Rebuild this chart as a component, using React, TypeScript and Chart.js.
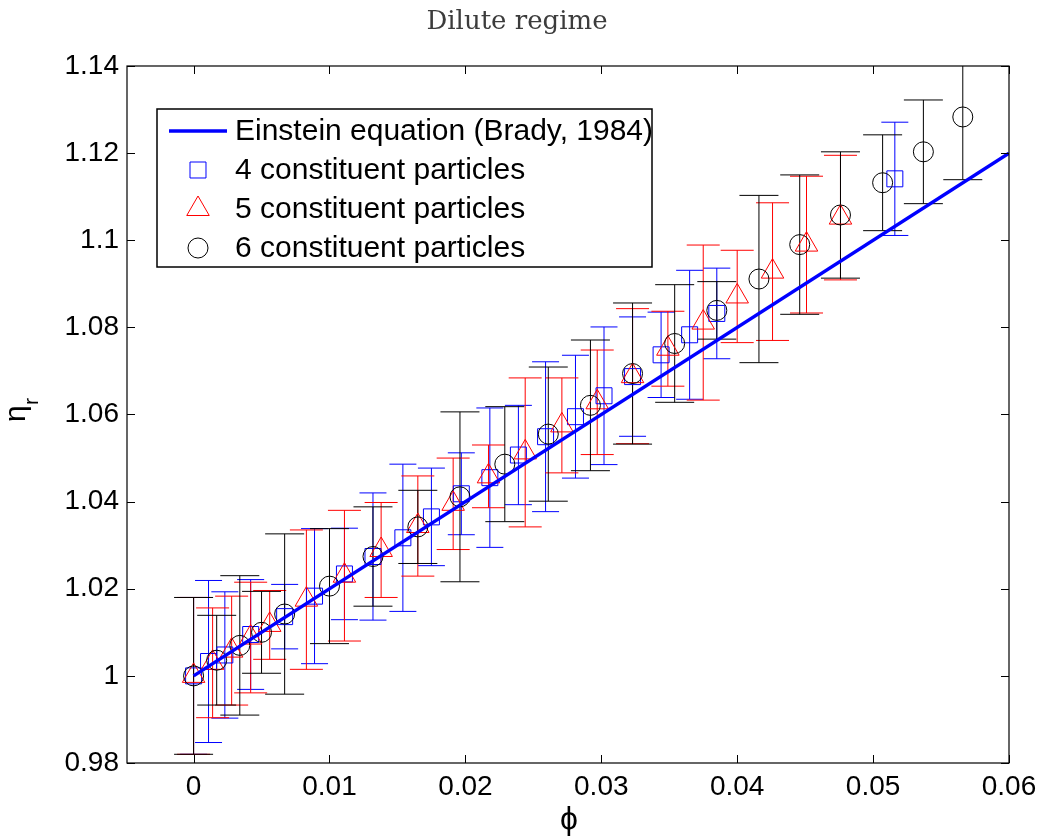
import React, { useEffect, useRef } from 'react';
import { Chart, registerables } from 'chart.js';

Chart.register(...registerables);

// Einstein equation (two end points of the straight line)
const einsteinPhi = [0, 0.06];
const einsteinEta = [1.0, 1.12];

// 4 constituent particles
const phi4 = [0, 0.0011, 0.0023, 0.0042, 0.0067, 0.0089, 0.0111, 0.0132, 0.0154, 0.0175, 0.0197, 0.0218, 0.0239, 0.0259, 0.0281, 0.0302, 0.0323, 0.0344, 0.0365, 0.0385, 0.0516];
const eta4 = [1.0, 1.0033, 1.0048, 1.0095, 1.0136, 1.0183, 1.0234, 1.0274, 1.0317, 1.0365, 1.0418, 1.0455, 1.0507, 1.0549, 1.0595, 1.0643, 1.0687, 1.0737, 1.0783, 1.0832, 1.1141];
const err4 = [0.018, 0.0186, 0.0145, 0.0126, 0.0074, 0.0155, 0.0105, 0.0146, 0.0169, 0.0112, 0.0094, 0.016, 0.0114, 0.0172, 0.0141, 0.0158, 0.0137, 0.0098, 0.0148, 0.0104, 0.013];

// 5 constituent particles
const phi5 = [0, 0.0014, 0.0028, 0.0042, 0.0056, 0.0083, 0.0111, 0.0138, 0.0165, 0.0191, 0.0217, 0.0244, 0.0271, 0.0297, 0.0323, 0.0349, 0.0375, 0.04, 0.0426, 0.0451, 0.0476];
const eta5 = [1.0, 1.003, 1.0058, 1.0088, 1.0117, 1.0175, 1.023, 1.0289, 1.0344, 1.0395, 1.0458, 1.0513, 1.0575, 1.0628, 1.0688, 1.0751, 1.0811, 1.0871, 1.0928, 1.099, 1.1052];
const err5 = [0.018, 0.0126, 0.0125, 0.0127, 0.0079, 0.016, 0.015, 0.0109, 0.0115, 0.0105, 0.0072, 0.0171, 0.0109, 0.012, 0.0155, 0.0086, 0.0178, 0.0106, 0.0158, 0.0157, 0.0143];

// 6 constituent particles
const phi6 = [0, 0.0017, 0.0034, 0.005, 0.0067, 0.01, 0.0132, 0.0165, 0.0196, 0.0229, 0.0261, 0.0292, 0.0323, 0.0354, 0.0385, 0.0416, 0.0446, 0.0476, 0.0507, 0.0537, 0.0566];
const eta6 = [1.0, 1.0036, 1.007, 1.01, 1.0142, 1.0206, 1.0274, 1.0342, 1.0411, 1.0486, 1.0555, 1.0621, 1.0694, 1.0763, 1.0839, 1.0911, 1.099, 1.1058, 1.1132, 1.1203, 1.1283];
const err6 = [0.018, 0.0103, 0.016, 0.0094, 0.0184, 0.0132, 0.0114, 0.0084, 0.0195, 0.0132, 0.0154, 0.015, 0.0162, 0.0135, 0.0066, 0.0192, 0.016, 0.0145, 0.011, 0.0119, 0.0144];

const seriesLabels = [
  'Einstein equation (Brady, 1984)',
  '4 constituent particles',
  '5 constituent particles',
  '6 constituent particles',
];

const xTicks = [0, 0.01, 0.02, 0.03, 0.04, 0.05, 0.06];
const xTickLabels = ['0', '0.01', '0.02', '0.03', '0.04', '0.05', '0.06'];
const yTicks = [0.98, 1.0, 1.02, 1.04, 1.06, 1.08, 1.1, 1.12, 1.14];
const yTickLabels = ['0.98', '1', '1.02', '1.04', '1.06', '1.08', '1.1', '1.12', '1.14'];

const titleText = 'Dilute regime';

const SANS = '"Liberation Sans", Arial, Helvetica, sans-serif';

function toPoints(xs: number[], ys: number[]) {
  return xs.map((x, i) => ({ x, y: ys[i] }));
}

function drawMarker(ctx: CanvasRenderingContext2D, style: string, x: number, y: number, r: number, color: string) {
  ctx.save();
  ctx.strokeStyle = color;
  ctx.lineWidth = 1;
  ctx.beginPath();
  if (style === 'rect') {
    const s = Math.SQRT1_2 * r;
    ctx.rect(x - s, y - s, 2 * s, 2 * s);
  } else if (style === 'triangle') {
    const w = Math.sqrt(3) / 2 * r;
    ctx.moveTo(x, y - r);
    ctx.lineTo(x + w, y + r / 2);
    ctx.lineTo(x - w, y + r / 2);
    ctx.closePath();
  } else {
    ctx.arc(x, y, r, 0, Math.PI * 2);
  }
  ctx.stroke();
  ctx.restore();
}

export default function App() {
  const ref = useRef<HTMLCanvasElement>(null);

  useEffect(() => {
    const canvas = ref.current;
    if (!canvas) return;

    const errorSets: { [k: number]: { err: number[]; cap: number } } = {
      1: { err: err4, cap: 13.5 },
      2: { err: err5, cap: 16.5 },
      3: { err: err6, cap: 19.5 },
    };

    const errorBarPlugin = {
      id: 'errorBars',
      beforeDatasetsDraw(chart: any) {
        const { ctx, chartArea, scales } = chart;
        const xs = scales.x;
        const ys = scales.y;
        ctx.save();
        ctx.beginPath();
        ctx.rect(chartArea.left, chartArea.top, chartArea.right - chartArea.left, chartArea.bottom - chartArea.top);
        ctx.clip();
        [1, 2, 3].forEach((di) => {
          const ds = chart.data.datasets[di];
          const info = errorSets[di];
          ctx.strokeStyle = ds.borderColor;
          ctx.lineWidth = 1;
          ds.data.forEach((p: any, i: number) => {
            const e = info.err[i];
            const px = xs.getPixelForValue(p.x);
            const top = ys.getPixelForValue(p.y + e);
            const bot = ys.getPixelForValue(p.y - e);
            ctx.beginPath();
            ctx.moveTo(px, top);
            ctx.lineTo(px, bot);
            ctx.moveTo(px - info.cap, top);
            ctx.lineTo(px + info.cap, top);
            ctx.moveTo(px - info.cap, bot);
            ctx.lineTo(px + info.cap, bot);
            ctx.stroke();
          });
        });
        ctx.restore();
      },
    };

    const decorPlugin = {
      id: 'decor',
      afterDraw(chart: any) {
        const { ctx, chartArea, scales } = chart;
        const { left, right, top, bottom } = chartArea;
        ctx.save();
        // box
        ctx.strokeStyle = '#000';
        ctx.lineWidth = 1.2;
        ctx.strokeRect(left, top, right - left, bottom - top);
        // inward ticks
        const tl = 8;
        ctx.lineWidth = 1;
        ctx.beginPath();
        xTicks.forEach((v) => {
          const px = Math.round(scales.x.getPixelForValue(v)) + 0.5;
          ctx.moveTo(px, bottom);
          ctx.lineTo(px, bottom - tl);
          ctx.moveTo(px, top);
          ctx.lineTo(px, top + tl);
        });
        yTicks.forEach((v) => {
          const py = Math.round(scales.y.getPixelForValue(v)) + 0.5;
          ctx.moveTo(left, py);
          ctx.lineTo(left + tl, py);
          ctx.moveTo(right, py);
          ctx.lineTo(right - tl, py);
        });
        ctx.stroke();

        // title
        ctx.fillStyle = '#3c3c3c';
        ctx.font = '26px "DejaVu Serif", serif';
        ctx.textAlign = 'center';
        ctx.textBaseline = 'alphabetic';
        ctx.fillText(titleText, 517, 29);

        // x label
        ctx.fillStyle = '#000';
        ctx.font = '32px ' + SANS;
        ctx.textAlign = 'center';
        ctx.fillText('\u03D5', 569, 829);

        // y label (rotated)
        ctx.save();
        ctx.translate(0, 414);
        ctx.rotate(-Math.PI / 2);
        ctx.textAlign = 'left';
        ctx.textBaseline = 'alphabetic';
        ctx.font = '30px ' + SANS;
        ctx.fillText('\u03B7', -8, 25);
        ctx.font = '21px ' + SANS;
        ctx.fillText('r', 9, 38);
        ctx.restore();

        // legend
        const lx = 157, ly = 109, lw = 652 - 157, lh = 267 - 109;
        ctx.fillStyle = '#fff';
        ctx.fillRect(lx, ly, lw, lh);
        ctx.strokeStyle = '#000';
        ctx.lineWidth = 1.5;
        ctx.strokeRect(lx, ly, lw, lh);
        const rows = [131, 170, 209, 248];
        const dsets = chart.data.datasets;
        ctx.font = '30px ' + SANS;
        ctx.textBaseline = 'middle';
        ctx.textAlign = 'left';
        dsets.forEach((ds: any, i: number) => {
          const y = rows[i];
          if (i === 0) {
            ctx.strokeStyle = ds.borderColor;
            ctx.lineWidth = ds.borderWidth;
            ctx.beginPath();
            ctx.moveTo(169, y);
            ctx.lineTo(227, y);
            ctx.stroke();
          } else {
            drawMarker(ctx, ds.pointStyle, 198, y, ds.pointRadius, ds.borderColor);
          }
          ctx.fillStyle = '#000';
          ctx.fillText(ds.label, 235, y + 1);
        });
        ctx.restore();
      },
    };

    const chart = new Chart(canvas, {
      type: 'scatter',
      data: {
        datasets: [
          {
            type: 'line',
            label: seriesLabels[0],
            data: toPoints(einsteinPhi, einsteinEta),
            borderColor: '#0000ff',
            borderWidth: 3.5,
            pointRadius: 0,
            fill: false,
            order: 0,
          } as any,
          {
            label: seriesLabels[1],
            data: toPoints(phi4, eta4),
            borderColor: '#0000ff',
            backgroundColor: 'rgba(0,0,0,0)',
            pointStyle: 'rect',
            pointRadius: 11.3,
            pointBorderWidth: 1,
            borderWidth: 1,
            order: 3,
          },
          {
            label: seriesLabels[2],
            data: toPoints(phi5, eta5),
            borderColor: '#ff0000',
            backgroundColor: 'rgba(0,0,0,0)',
            pointStyle: 'triangle',
            pointRadius: 13,
            pointBorderWidth: 1,
            borderWidth: 1,
            order: 2,
          },
          {
            label: seriesLabels[3],
            data: toPoints(phi6, eta6),
            borderColor: '#000000',
            backgroundColor: 'rgba(0,0,0,0)',
            pointStyle: 'circle',
            pointRadius: 10,
            pointBorderWidth: 1,
            borderWidth: 1,
            order: 1,
          },
        ],
      },
      options: {
        responsive: false,
        animation: false,
        devicePixelRatio: 1,
        layout: { padding: { top: 66, right: 35, left: 0, bottom: 0 } },
        plugins: {
          legend: { display: false },
          title: { display: false },
          tooltip: { enabled: false },
        },
        scales: {
          x: {
            type: 'linear',
            min: -0.0049,
            max: 0.06,
            grid: { display: false, drawTicks: false },
            border: { display: false },
            afterFit(scale: any) { scale.height = 76; },
            afterBuildTicks(scale: any) { scale.ticks = xTicks.map((v) => ({ value: v })); },
            ticks: {
              autoSkip: false,
              maxRotation: 0,
              padding: 7,
              color: '#000',
              font: { family: SANS, size: 28 },
              callback: (_v: any, i: number) => xTickLabels[i],
            },
          },
          y: {
            type: 'linear',
            min: 0.98,
            max: 1.14,
            grid: { display: false, drawTicks: false },
            border: { display: false },
            afterFit(scale: any) { scale.width = 127; },
            afterBuildTicks(scale: any) { scale.ticks = yTicks.map((v) => ({ value: v })); },
            ticks: {
              autoSkip: false,
              padding: 8,
              color: '#000',
              font: { family: SANS, size: 28 },
              callback: (_v: any, i: number) => yTickLabels[i],
            },
          },
        },
      } as any,
      plugins: [errorBarPlugin, decorPlugin],
    });

    return () => chart.destroy();
  }, []);

  return (
    <div style={{ position: 'absolute', left: 0, top: 0, width: 1044, height: 839, background: '#fff' }}>
      <canvas ref={ref} width={1044} height={839} style={{ display: 'block' }} />
    </div>
  );
}
